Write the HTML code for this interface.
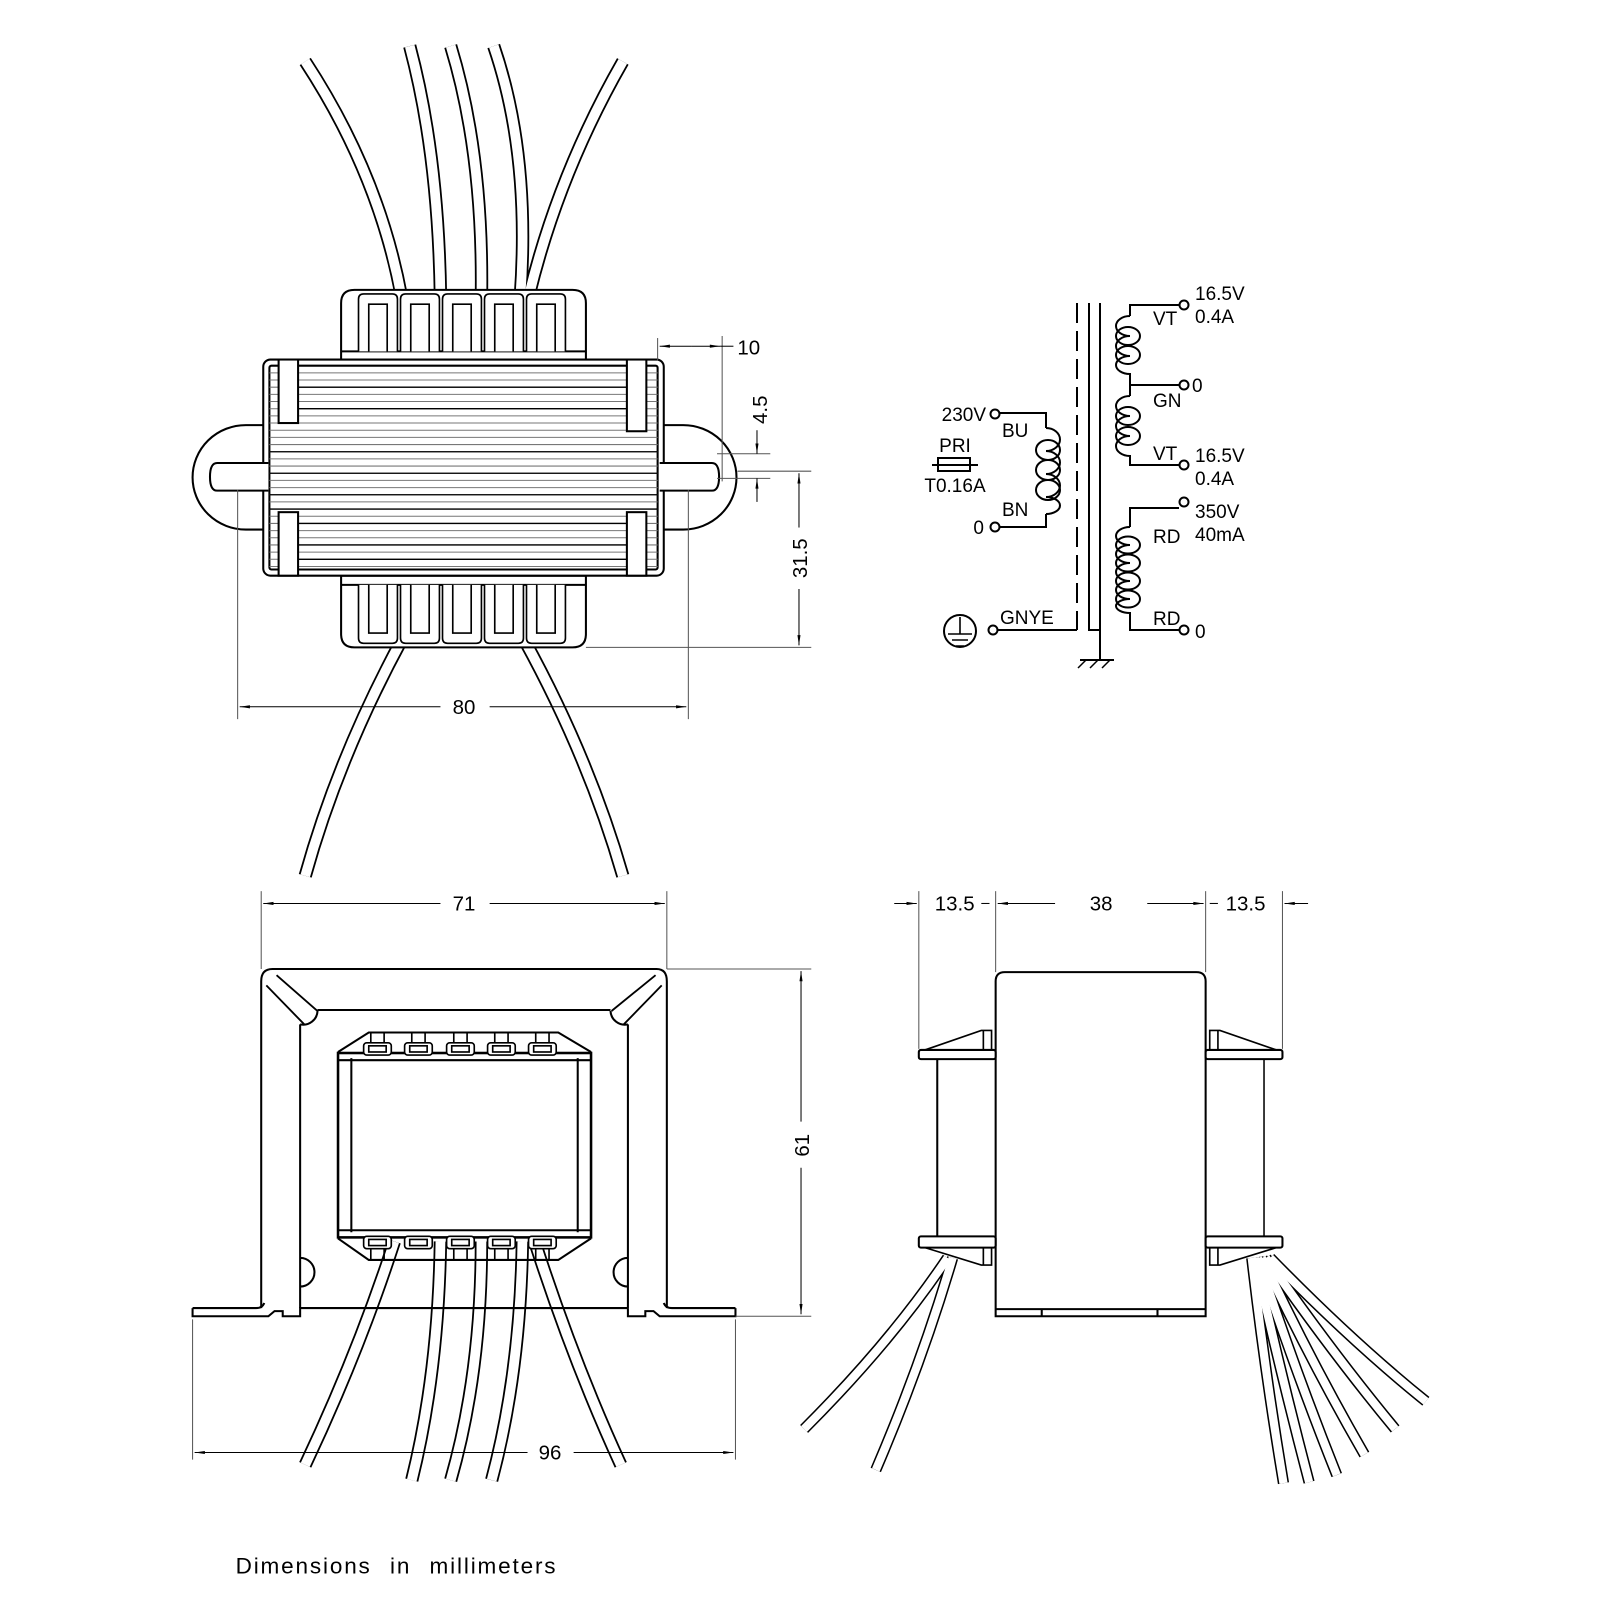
<!DOCTYPE html>
<html><head><meta charset="utf-8"><style>
html,body{margin:0;padding:0;background:#fff}
svg{display:block}
text{font-family:"Liberation Sans",sans-serif;fill:#000}
</style></head><body>
<svg width="1600" height="1600" viewBox="0 0 1562 1562" xmlns="http://www.w3.org/2000/svg">
<defs>
<marker id="a" viewBox="0 0 10 6" refX="10" refY="3" markerWidth="12" markerHeight="6" markerUnits="userSpaceOnUse" orient="auto"><path d="M0,1.5L10,3L0,4.5Z" fill="#000"/></marker>
</defs>
<rect width="1562" height="1562" fill="#fff"/>

<!-- ============ TOP VIEW ============ -->
<g fill="none" stroke-linecap="butt">
 <g stroke="#000" stroke-width="13">
  <path d="M298,60 Q370,170 392,290"/>
  <path d="M400,45 Q428,150 430,290"/>
  <path d="M440,45 Q472,150 470,290"/>
  <path d="M482,45 Q518,150 508,290"/>
  <path d="M608,60 Q545,170 516,290"/>
  <path d="M392,625 Q330,740 298,855"/>
  <path d="M512,625 Q575,740 608,855"/>
 </g>
 <g stroke="#fff" stroke-width="9.5">
  <path d="M298,60 Q370,170 392,290"/>
  <path d="M400,45 Q428,150 430,290"/>
  <path d="M440,45 Q472,150 470,290"/>
  <path d="M482,45 Q518,150 508,290"/>
  <path d="M608,60 Q545,170 516,290"/>
  <path d="M392,625 Q330,740 298,855"/>
  <path d="M512,625 Q575,740 608,855"/>
 </g>
</g>
<g stroke="#000" stroke-width="2" fill="#fff">
 <path d="M333,352 L333,296 Q333,283 346,283 L559,283 Q572,283 572,296 L572,352 Z"/>
 <line x1="333" y1="343" x2="572" y2="343"/>
 <g stroke-width="1.6">
  <path d="M350,343 V292 Q350,287 355,287 L383,287 Q388,287 388,292 V343"/><path d="M360,343 V297 H378 V343"/>
  <path d="M391,343 V292 Q391,287 396,287 L424,287 Q429,287 429,292 V343"/><path d="M401,343 V297 H419 V343"/>
  <path d="M432,343 V292 Q432,287 437,287 L465,287 Q470,287 470,292 V343"/><path d="M442,343 V297 H460 V343"/>
  <path d="M473,343 V292 Q473,287 478,287 L506,287 Q511,287 511,292 V343"/><path d="M483,343 V297 H501 V343"/>
  <path d="M514,343 V292 Q514,287 519,287 L547,287 Q552,287 552,292 V343"/><path d="M524,343 V297 H542 V343"/>
 </g>
 <path d="M333,562 L333,619 Q333,632 346,632 L559,632 Q572,632 572,619 L572,562 Z"/>
 <line x1="333" y1="571" x2="572" y2="571"/>
 <g stroke-width="1.6">
  <path d="M350,571 V623 Q350,628 355,628 L383,628 Q388,628 388,623 V571"/><path d="M360,571 V618 H378 V571"/>
  <path d="M391,571 V623 Q391,628 396,628 L424,628 Q429,628 429,623 V571"/><path d="M401,571 V618 H419 V571"/>
  <path d="M432,571 V623 Q432,628 437,628 L465,628 Q470,628 470,623 V571"/><path d="M442,571 V618 H460 V571"/>
  <path d="M473,571 V623 Q473,628 478,628 L506,628 Q511,628 511,623 V571"/><path d="M483,571 V618 H501 V571"/>
  <path d="M514,571 V623 Q514,628 519,628 L547,628 Q552,628 552,623 V571"/><path d="M524,571 V618 H542 V571"/>
 </g>
 <path d="M262,415 L240,415 A52,51 0 0 0 240,517 L262,517"/>
 <path d="M644,415 L667,415 A52,51 0 0 1 667,517 L644,517"/>
 <rect x="257" y="351" width="391" height="211" rx="7"/>
 <rect x="263" y="357" width="379" height="199" rx="2"/>
</g>
<g stroke="#777" stroke-width="1">
 <path d="M263,364H642M263,371H642M263,378H642M263,385H642M263,392H642M263,399H642M263,406H642M263,413H642M263,420H642M263,427H642M263,434H642M263,441H642M263,448H642M263,455H642M263,462H642M263,469H642M263,476H642M263,483H642M263,490H642M263,497H642M263,504H642M263,511H642M263,518H642M263,525H642M263,532H642M263,539H642M263,546H642M263,553H642"/>
</g>
<g stroke="#000" stroke-width="1.3">
 <path d="M290,378H612M290,399H612M263,441H642M263,462H642M263,483H642M263,497H642M290,511H612M290,532H612M290,546H612"/>
</g>
<g stroke="#000" stroke-width="2" fill="#fff">
 <rect x="272" y="351" width="19" height="62"/>
 <rect x="612" y="351" width="19" height="70"/>
 <rect x="272" y="500" width="19" height="62"/>
 <rect x="612" y="500" width="19" height="62"/>
 <path d="M262,452 L212,452 Q205,452 205,465.5 Q205,479 212,479 L262,479"/>
 <path d="M644,452 L695,452 Q702,452 702,465.5 Q702,479 695,479 L644,479"/>
</g>
<g stroke="#555" stroke-width="1" fill="none">
 <line x1="232" y1="478" x2="232" y2="702"/>
 <line x1="672" y1="478" x2="672" y2="702"/>
 <line x1="572" y1="632" x2="792" y2="632"/>
 <line x1="720" y1="460" x2="792" y2="460"/>
 <line x1="700" y1="443" x2="752" y2="443"/>
 <line x1="700" y1="467" x2="752" y2="467"/>
 <line x1="642" y1="330" x2="642" y2="352"/>
 <line x1="705" y1="328" x2="705" y2="470"/>
</g>
<g stroke="#000" stroke-width="1" fill="none">
 <line x1="430" y1="690" x2="234" y2="690" marker-end="url(#a)"/>
 <line x1="478" y1="690" x2="670" y2="690" marker-end="url(#a)"/>
 <line x1="780" y1="575" x2="780" y2="630" marker-end="url(#a)"/>
 <line x1="780" y1="515" x2="780" y2="462" marker-end="url(#a)"/>
 <line x1="739" y1="420" x2="739" y2="443" marker-end="url(#a)"/>
 <line x1="739" y1="490" x2="739" y2="467" marker-end="url(#a)"/>
 <line x1="675" y1="338" x2="644" y2="338" marker-end="url(#a)"/>
 <line x1="675" y1="338" x2="703" y2="338" marker-end="url(#a)"/>
 <line x1="703" y1="338" x2="716" y2="338"/>
</g>
<g font-size="20">
 <text x="453" y="697" text-anchor="middle">80</text>
 <text x="731" y="346" text-anchor="middle">10</text>
 <text transform="translate(788,545) rotate(-90)" text-anchor="middle">31.5</text>
 <text transform="translate(749,400) rotate(-90)" text-anchor="middle">4.5</text>
</g>

<!-- ============ SCHEMATIC ============ -->
<g transform="scale(0.97625)" fill="none" stroke="#000" stroke-width="2">
 <line x1="1077" y1="303" x2="1077" y2="630" stroke-dasharray="20,8"/>
 <path d="M1089,303 L1089,630 L1100,630"/>
 <path d="M1100,303 L1100,660"/>
 <line x1="1080" y1="660" x2="1114" y2="660"/>
 <path d="M1086,660 l-8,8 M1098,660 l-8,8 M1110,660 l-8,8" stroke-width="1.5"/>
 <circle cx="995" cy="414" r="4.5"/>
 <circle cx="995" cy="527" r="4.5"/>
 <path d="M1000,413 L1046,413 L1046,428"/>
 <path d="M1000,527 L1046,527 L1046,514"/>
 <path d="M1046,428 A14,11.5 0 0 1 1046,451 A14,11.5 0 0 1 1046,474 A14,11.5 0 0 1 1046,497 A14,8.5 0 0 1 1046,514"/>
 <ellipse cx="1048" cy="450" rx="12" ry="10"/>
 <ellipse cx="1048" cy="470" rx="12" ry="10"/>
 <ellipse cx="1048" cy="490" rx="12" ry="10"/>
 <rect x="938" y="458" width="32" height="13"/>
 <line x1="932" y1="465" x2="978" y2="465"/>
 <circle cx="960" cy="631" r="16"/>
 <path d="M960,617 V634 M948,634 H972 M952,640 H968 M956,646 H964" stroke-width="1.6"/>
 <circle cx="993" cy="630" r="4.5"/>
 <line x1="998" y1="630" x2="1077" y2="630"/>
 <circle cx="1184" cy="305" r="4.5"/>
 <circle cx="1184" cy="385" r="4.5"/>
 <circle cx="1184" cy="465" r="4.5"/>
 <circle cx="1184" cy="502" r="4.5"/>
 <circle cx="1184" cy="630" r="4.5"/>
 <path d="M1179,305 L1130,305 L1130,316"/>
 <path d="M1130,316 A14,10 0 0 0 1130,336 A14,10 0 0 0 1130,356 A14,9 0 0 0 1130,374 L1130,396"/>
 <ellipse cx="1128" cy="336" rx="12" ry="9"/>
 <ellipse cx="1128" cy="355" rx="12" ry="9"/>
 <line x1="1130" y1="385" x2="1179" y2="385"/>
 <path d="M1130,396 A14,10 0 0 0 1130,416 A14,10 0 0 0 1130,436 A14,10 0 0 0 1130,456 L1130,465 L1179,465"/>
 <ellipse cx="1128" cy="416" rx="12" ry="9"/>
 <ellipse cx="1128" cy="436" rx="12" ry="9"/>
 <path d="M1179,508 L1130,508 L1130,527"/>
 <path d="M1130,527 A14,9 0 0 0 1130,545 A14,9 0 0 0 1130,563 A14,9 0 0 0 1130,581 A14,9 0 0 0 1130,599 A14,7 0 0 0 1130,613 L1130,630 L1179,630"/>
 <ellipse cx="1128" cy="545" rx="12" ry="8.5"/>
 <ellipse cx="1128" cy="563" rx="12" ry="8.5"/>
 <ellipse cx="1128" cy="581" rx="12" ry="8.5"/>
 <ellipse cx="1128" cy="599" rx="12" ry="8.5"/>
</g>
<g transform="scale(0.97625)" font-size="19">
 <text x="986" y="421" text-anchor="end">230V</text>
 <text x="984" y="534" text-anchor="end">0</text>
 <text x="1002" y="437">BU</text>
 <text x="1002" y="516">BN</text>
 <text x="955" y="452" text-anchor="middle">PRI</text>
 <text x="955" y="492" text-anchor="middle">T0.16A</text>
 <text x="1000" y="624">GNYE</text>
 <text x="1153" y="325">VT</text>
 <text x="1195" y="300">16.5V</text>
 <text x="1195" y="323">0.4A</text>
 <text x="1192" y="392">0</text>
 <text x="1153" y="407">GN</text>
 <text x="1153" y="460">VT</text>
 <text x="1195" y="462">16.5V</text>
 <text x="1195" y="485">0.4A</text>
 <text x="1195" y="518">350V</text>
 <text x="1195" y="541">40mA</text>
 <text x="1153" y="543">RD</text>
 <text x="1153" y="625">RD</text>
 <text x="1195" y="638">0</text>
</g>

<!-- ============ FRONT VIEW ============ -->
<g fill="none">
 <g stroke="#000" stroke-width="13">
  <path d="M385,1212 Q350,1320 298,1430"/>
  <path d="M430,1212 Q428,1340 402,1445"/>
  <path d="M470,1212 Q470,1340 440,1445"/>
  <path d="M510,1212 Q508,1340 480,1445"/>
  <path d="M522,1212 Q560,1330 606,1430"/>
 </g>
 <g stroke="#fff" stroke-width="9.5">
  <path d="M385,1212 Q350,1320 298,1430"/>
  <path d="M430,1212 Q428,1340 402,1445"/>
  <path d="M470,1212 Q470,1340 440,1445"/>
  <path d="M510,1212 Q508,1340 480,1445"/>
  <path d="M522,1212 Q560,1330 606,1430"/>
 </g>
</g>
<g stroke="#000" stroke-width="2" fill="none">
 <path d="M255,1277 L255,958 Q255,946 266,946 L641,946 Q651,946 651,958 L651,1277"/>
 <path d="M293,1277 L293,1000 M613,1277 L613,1000 M310,986 L596,986"/>
 <path d="M260,962 L297,1000 M270,952 L310,987 M640,952 L597,987 M646,962 L609,1000" stroke-width="1.8"/>
 <path d="M293,1000 A14,14 0 0 0 310,987" />
 <path d="M613,1000 A14,14 0 0 1 596,987"/>
 <path d="M293,1228 A14,14 0 0 1 293,1256 M613,1228 A14,14 0 0 0 613,1256"/>
 <path d="M188,1277 L250,1277 Q256,1277 258,1272 M188,1277 L188,1285 L262,1285 L268,1280 L276,1280 L276,1285 L293,1285 L293,1277 L613,1277"/>
 <path d="M718,1277 L656,1277 Q650,1277 648,1272 M718,1277 L718,1285 L644,1285 L638,1280 L630,1280 L630,1285 L613,1285 L613,1277"/>
 <rect x="330" y="1028" width="247" height="180" stroke-width="2.5" fill="#fff"/>
 <path d="M343,1033 V1203 M564,1033 V1203"/>
 <path d="M330,1035 H577 M330,1201 H577"/>
 <path d="M330,1027 L360,1008 L545,1008 L577,1027"/>
 <path d="M330,1209 L360,1230 L545,1230 L577,1209"/>
 <g stroke-width="1.6" fill="#fff">
  <rect x="355" y="1018" width="27" height="12" rx="3"/><rect x="360" y="1021" width="17" height="6"/><path d="M362,1018V1008M375,1018V1008"/>
  <rect x="395" y="1018" width="27" height="12" rx="3"/><rect x="400" y="1021" width="17" height="6"/><path d="M402,1018V1008M415,1018V1008"/>
  <rect x="436" y="1018" width="27" height="12" rx="3"/><rect x="441" y="1021" width="17" height="6"/><path d="M443,1018V1008M456,1018V1008"/>
  <rect x="476" y="1018" width="27" height="12" rx="3"/><rect x="481" y="1021" width="17" height="6"/><path d="M483,1018V1008M496,1018V1008"/>
  <rect x="516" y="1018" width="27" height="12" rx="3"/><rect x="521" y="1021" width="17" height="6"/><path d="M523,1018V1008M536,1018V1008"/>
  <rect x="355" y="1207" width="27" height="12" rx="3"/><rect x="360" y="1210" width="17" height="6"/><path d="M362,1219V1230M375,1219V1230"/>
  <rect x="395" y="1207" width="27" height="12" rx="3"/><rect x="400" y="1210" width="17" height="6"/>
  <rect x="436" y="1207" width="27" height="12" rx="3"/><rect x="441" y="1210" width="17" height="6"/><path d="M443,1219V1230M456,1219V1230"/>
  <rect x="476" y="1207" width="27" height="12" rx="3"/><rect x="481" y="1210" width="17" height="6"/><path d="M483,1219V1230M496,1219V1230"/>
  <rect x="516" y="1207" width="27" height="12" rx="3"/><rect x="521" y="1210" width="17" height="6"/><path d="M523,1219V1230M536,1219V1230"/>
 </g>
</g>
<g stroke="#555" stroke-width="1" fill="none">
 <line x1="255" y1="870" x2="255" y2="946"/>
 <line x1="651" y1="870" x2="651" y2="946"/>
 <line x1="651" y1="946" x2="792" y2="946"/>
 <line x1="718" y1="1285" x2="792" y2="1285"/>
 <line x1="188" y1="1288" x2="188" y2="1425"/>
 <line x1="718" y1="1288" x2="718" y2="1425"/>
</g>
<g stroke="#000" stroke-width="1" fill="none">
 <line x1="430" y1="882" x2="257" y2="882" marker-end="url(#a)"/>
 <line x1="478" y1="882" x2="649" y2="882" marker-end="url(#a)"/>
 <line x1="782" y1="1095" x2="782" y2="948" marker-end="url(#a)"/>
 <line x1="782" y1="1140" x2="782" y2="1283" marker-end="url(#a)"/>
 <line x1="515" y1="1418" x2="190" y2="1418" marker-end="url(#a)"/>
 <line x1="560" y1="1418" x2="716" y2="1418" marker-end="url(#a)"/>
</g>
<g font-size="20">
 <text x="453" y="889" text-anchor="middle">71</text>
 <text transform="translate(790,1118) rotate(-90)" text-anchor="middle">61</text>
 <text x="537" y="1425" text-anchor="middle">96</text>
</g>

<!-- ============ SIDE VIEW ============ -->
<g fill="none">
 <g stroke="#000" stroke-width="11">
  <path d="M925,1228 Q870,1310 785,1395"/>
  <path d="M930,1228 Q900,1330 855,1435"/>
  <path d="M1222,1228 Q1235,1340 1253,1448"/>
  <path d="M1225,1228 Q1250,1340 1278,1447"/>
  <path d="M1228,1228 Q1265,1340 1305,1440"/>
  <path d="M1232,1228 Q1280,1330 1332,1420"/>
  <path d="M1236,1228 Q1300,1320 1362,1395"/>
  <path d="M1240,1228 Q1320,1310 1392,1368"/>
 </g>
 <g stroke="#fff" stroke-width="8">
  <path d="M925,1228 Q870,1310 785,1395"/>
  <path d="M930,1228 Q900,1330 855,1435"/>
  <path d="M1222,1228 Q1235,1340 1253,1448"/>
  <path d="M1225,1228 Q1250,1340 1278,1447"/>
  <path d="M1228,1228 Q1265,1340 1305,1440"/>
  <path d="M1232,1228 Q1280,1330 1332,1420"/>
  <path d="M1236,1228 Q1300,1320 1362,1395"/>
  <path d="M1240,1228 Q1320,1310 1392,1368"/>
 </g>
</g>
<g stroke="#000" stroke-width="2" fill="#fff">
 <path d="M972,1285 L972,958 Q972,949 981,949 L1168,949 Q1177,949 1177,958 L1177,1285 Z"/>
 <path d="M972,1278 H1177 M1017,1278 V1285 M1130,1278 V1285" fill="none"/>
 <line x1="915" y1="1034" x2="915" y2="1207"/>
 <path d="M903,1025 L958,1006 L968,1006 L968,1025 Z" stroke-width="1.6"/>
 <line x1="960" y1="1006" x2="960" y2="1025" stroke-width="1.6"/>
 <rect x="897" y="1025" width="75" height="9" rx="2"/>
 <path d="M903,1218 L958,1235 L968,1235 L968,1218 Z" stroke-width="1.6"/>
 <line x1="960" y1="1218" x2="960" y2="1235" stroke-width="1.6"/>
 <rect x="897" y="1207" width="75" height="11" rx="2"/>
 <line x1="1234" y1="1034" x2="1234" y2="1207" stroke-width="1.5"/>
 <path d="M1246,1025 L1191,1006 L1181,1006 L1181,1025 Z" stroke-width="1.6"/>
 <line x1="1189" y1="1006" x2="1189" y2="1025" stroke-width="1.6"/>
 <rect x="1177" y="1025" width="75" height="9" rx="2"/>
 <path d="M1246,1218 L1191,1235 L1181,1235 L1181,1218 Z" stroke-width="1.6"/>
 <line x1="1189" y1="1218" x2="1189" y2="1235" stroke-width="1.6"/>
 <rect x="1177" y="1207" width="75" height="11" rx="2"/>
</g>
<g stroke="#555" stroke-width="1" fill="none">
 <line x1="897" y1="870" x2="897" y2="1024"/>
 <line x1="972" y1="870" x2="972" y2="949"/>
 <line x1="1177" y1="870" x2="1177" y2="949"/>
 <line x1="1252" y1="870" x2="1252" y2="1024"/>
</g>
<g stroke="#000" stroke-width="1" fill="none">
 <line x1="873" y1="882" x2="895" y2="882" marker-end="url(#a)"/>
 <line x1="1030" y1="882" x2="974" y2="882" marker-end="url(#a)"/>
 <line x1="1120" y1="882" x2="1175" y2="882" marker-end="url(#a)"/>
 <line x1="1277" y1="882" x2="1254" y2="882" marker-end="url(#a)"/>
 <line x1="958" y1="882" x2="966" y2="882"/>
 <line x1="1181" y1="882" x2="1189" y2="882"/>
</g>
<g font-size="20">
 <text x="932" y="889" text-anchor="middle">13.5</text>
 <text x="1075" y="889" text-anchor="middle">38</text>
 <text x="1216" y="889" text-anchor="middle">13.5</text>
</g>

<text x="230" y="1536" font-size="22" letter-spacing="1.8" word-spacing="10">Dimensions in millimeters</text>
</svg>
</body></html>
